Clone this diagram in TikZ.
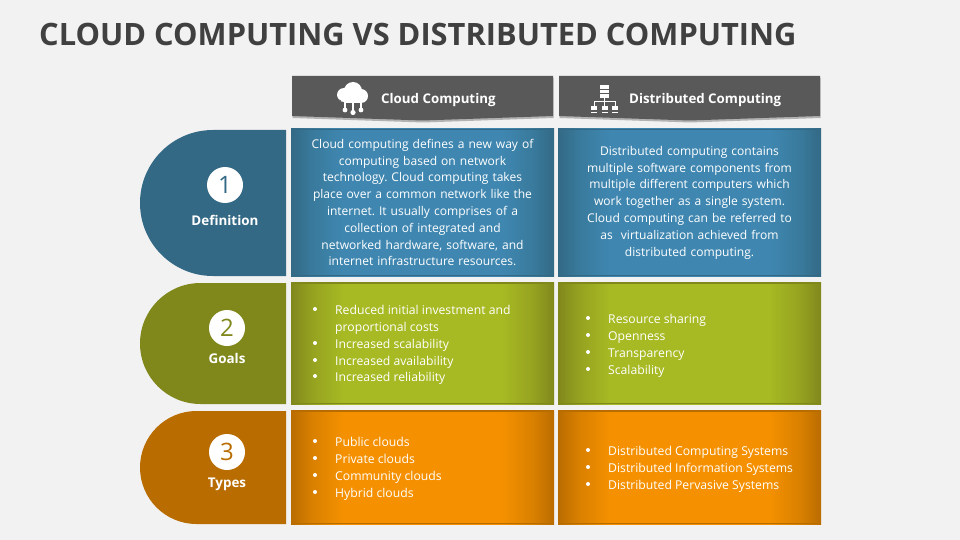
\documentclass[tikz,border=0pt]{standalone}
\usepackage{fontspec}
\setmainfont{Open Sans}
\usetikzlibrary{positioning}
\definecolor{pagebg}{HTML}{F2F2F2}
\definecolor{titlegray}{HTML}{404040}
\definecolor{tabgray}{HTML}{595959}
\definecolor{bluedark}{HTML}{336985}
\definecolor{bluemid}{HTML}{397A9C}
\definecolor{bluelight}{HTML}{3F87B1}
\definecolor{greendark}{HTML}{80881C}
\definecolor{greenmid}{HTML}{95A220}
\definecolor{greenlight}{HTML}{A7BA23}
\definecolor{orangedark}{HTML}{B96C00}
\definecolor{orangemid}{HTML}{D98000}
\definecolor{orangelight}{HTML}{F59100}
\pgfdeclarehorizontalshading{bluepanel}{100bp}{color(0bp)=(bluedark);color(25bp)=(bluedark);color(29bp)=(bluemid);color(35bp)=(bluelight);color(65bp)=(bluelight);color(71bp)=(bluemid);color(75bp)=(bluedark);color(100bp)=(bluedark)}
\pgfdeclarehorizontalshading{greenpanel}{100bp}{color(0bp)=(greendark);color(25bp)=(greendark);color(29bp)=(greenmid);color(35bp)=(greenlight);color(65bp)=(greenlight);color(71bp)=(greenmid);color(75bp)=(greendark);color(100bp)=(greendark)}
\pgfdeclarehorizontalshading{orangepanel}{100bp}{color(0bp)=(orangedark);color(25bp)=(orangedark);color(29bp)=(orangemid);color(35bp)=(orangelight);color(65bp)=(orangelight);color(71bp)=(orangemid);color(75bp)=(orangedark);color(100bp)=(orangedark)}
\tikzset{
  panel/.style={minimum width=263pt,inner sep=0pt,outer sep=0pt,anchor=north west},
  para/.style={white,font=\frenchspacing\fontsize{12.05}{16.8}\selectfont,align=center,text width=250pt},
  points/.style={white,font=\fontsize{12.2}{16.9}\selectfont,align=left,anchor=west,inner sep=0pt},
  numdisc/.style={circle,fill=white,minimum size=36pt,inner sep=0pt,font=\fontsize{24}{24}\selectfont},
  rowname/.style={white,font=\bfseries\fontsize{13.4}{16}\selectfont,inner sep=0pt},
  tabtext/.style={white,font=\bfseries\fontsize{13.3}{16}\selectfont,anchor=west,inner sep=0pt},
}
\newcommand{\tabshape}[2]{(#1,#2) -- ++(261,0) -- ++(0,40) -- ++(-130.5,4.5) -- ++(-130.5,-4.5) -- cycle}
\newcommand{\rowshape}[2]{(286,#1) -- (286,#2) -- ({140+(#2-#1)/2},#2) arc[start angle=90,end angle=270,radius={(#2-#1)/2}] -- cycle}
\begin{document}
\begin{tikzpicture}[x=1pt,y=-1pt]
\fill[pagebg] (0,0) rectangle (960,540);
\node[anchor=west,titlegray,inner sep=0pt,font=\bfseries\fontsize{30.8}{36}\selectfont] (title) at (39,34) {CLOUD COMPUTING VS DISTRIBUTED COMPUTING};

% header tabs
\fill[black!30] \tabshape{292.5}{78};
\fill[black!30] \tabshape{559.5}{78};
\fill[tabgray] \tabshape{292}{76};
\fill[tabgray] \tabshape{559}{76};
\node[tabtext] (cloudhead) at (381,100) {Cloud Computing};
\node[tabtext] (disthead) at (629,100) {Distributed Computing};

% cloud icon
\begin{scope}[white]
\fill (344,95) circle (7) (353,91) circle (9) (361,96) circle (7);
\fill (344,96) rectangle (361,103);
\draw[tabgray,line width=0.7pt] (341,101) arc[start angle=110,end angle=250,radius=8];
\draw[line width=1.1pt] (353,102) -- (353,112) (345,102) -- (345,109) (361,102) -- (361,109);
\fill (345,110) circle (2.4) (353,112.5) circle (2.6) (361,110) circle (2.4);
\end{scope}

% network icon
\begin{scope}[white]
\foreach \y in {87,91.5,96}
  \fill (600,\y-1.8) rectangle (609,\y+1.8);
\draw[line width=0.8pt] (604.5,97) -- (604.5,106) (594,106) -- (594,101.5) -- (615,101.5) -- (615,106);
\foreach \x in {594,604.5,615}{
  \fill (\x-3,106) rectangle (\x+3,110.5);
  \fill (\x-3,112) rectangle (\x+3,113);
}
\end{scope}

% row shapes on the left
\fill[bluedark] \rowshape{130}{276};
\fill[greendark] \rowshape{283}{404};
\fill[orangedark] \rowshape{411}{524};
\node[numdisc,text=bluedark] (numone) at (225,185) {1};
\node[rowname] (rowone) at (225,220) {Definition};
\node[numdisc,text=greendark] (numtwo) at (227,328) {2};
\node[rowname] (rowtwo) at (227,358) {Goals};
\node[numdisc,text=orangedark] (numthree) at (227,452) {3};
\node[rowname] (rowthree) at (227,484) {Types};

% panels
\node[panel,shading=bluepanel,minimum height=147pt] (defa) at (291,129) {};
\node[panel,shading=bluepanel,minimum height=147pt] (defb) at (558,129) {};
\node[panel,shading=greenpanel,minimum height=122pt] (goala) at (291,282) {};
\node[panel,shading=greenpanel,minimum height=122pt] (goalb) at (558,282) {};
\node[panel,shading=orangepanel,minimum height=114pt] (typea) at (291,410) {};
\node[panel,shading=orangepanel,minimum height=114pt] (typeb) at (558,410) {};
\foreach \p/\c in {defa/bluedark,defb/bluedark,goala/greendark,goalb/greendark,typea/orangedark,typeb/orangedark}{
  \fill[\c] (\p.north west) rectangle ([yshift=-1.5pt]\p.north east);
  \fill[\c] (\p.south west) rectangle ([yshift=1.5pt]\p.south east);
}

% row 1
\node[para] (defatext) at (defa) {Cloud computing defines a new way of\\computing based on network\\technology. Cloud computing takes\\place over a common network like the\\internet. It usually comprises of a\\collection of integrated and\\networked hardware, software, and\\internet infrastructure resources.};
\node[para] (defbtext) at (defb) {Distributed computing contains\\multiple software components from\\multiple different computers which\\work together as a single system.\\Cloud computing can be referred to\\as\ \ virtualization achieved from\\distributed computing.};

% row 2
\node[points] (goalatext) at (335,345) {Reduced initial investment and\\proportional costs\\Increased scalability\\Increased availability\\Increased reliability};
\node[points] (goalbtext) at (608,346) {Resource sharing\\Openness\\Transparency\\Scalability};
\foreach \y in {309,343,360,376}
  \fill[white] (315,\y) circle (2);
\foreach \y in {318,335,352,369}
  \fill[white] (588,\y) circle (2);

% row 3
\node[points] (typeatext) at (335,469) {Public clouds\\Private clouds\\Community clouds\\Hybrid clouds};
\node[points] (typebtext) at (608,469) {Distributed Computing Systems\\Distributed Information Systems\\Distributed Pervasive Systems};
\foreach \y in {441,458,475,492}
  \fill[white] (315,\y) circle (2);
\foreach \y in {450,467,484}
  \fill[white] (588,\y) circle (2);
\end{tikzpicture}
\end{document}
